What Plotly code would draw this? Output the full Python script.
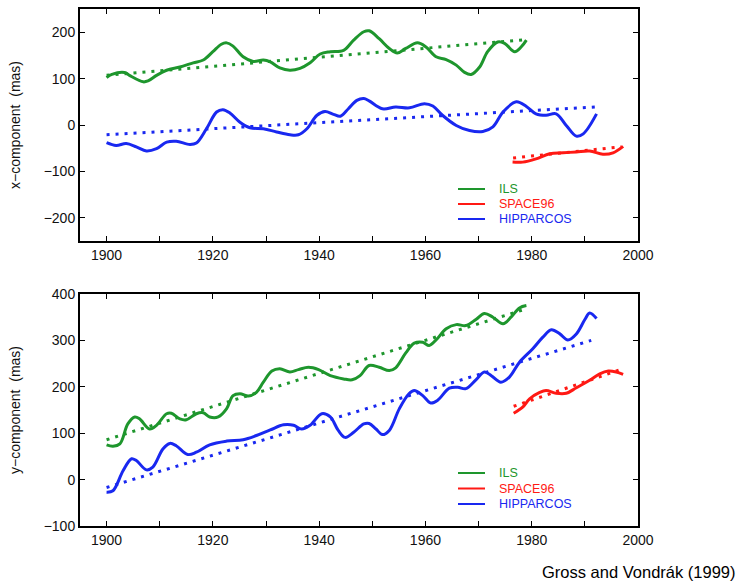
import plotly.graph_objects as go

# ---------------- data ----------------
# x-component (mas)
ils_x_year = [1900, 1901, 1903.4, 1904.3, 1906.9, 1907.8, 1909.4, 1911.3, 1913.8, 1916.3, 1918.2, 1920,
              1921.6, 1922.6, 1923.8, 1925.7, 1927.6, 1929.5, 1930.8, 1932.6, 1934.5, 1936.4, 1938.3,
              1940.2, 1942.1, 1944.6, 1946.5, 1948.4, 1949.4, 1951.3, 1953.2, 1954.7, 1956.3, 1958.5,
              1960.1, 1962, 1963.9, 1965.8, 1967.3, 1968.6, 1970.2, 1971.7, 1973.6, 1974.9, 1976.8,
              1978, 1979]
ils_x_val = [102, 109, 113, 107, 93, 95, 107, 118, 125, 134, 140, 158,
             174, 177, 170, 147, 137, 140, 136, 123, 118, 122, 134,
             153, 158, 161, 183, 201, 203, 186, 165, 155, 165, 177,
             168, 147, 141, 129, 114, 109, 125, 158, 179, 176, 158,
             168, 183]
hip_x_year = [1900, 1901.8, 1903.7, 1905.6, 1907.5, 1909.4, 1911.3, 1913.1, 1915.7, 1916.9, 1918.8,
              1920.7, 1921.9, 1923.2, 1925.1, 1927, 1929.5, 1932, 1934.5, 1936.1, 1937.7, 1939.6,
              1941.1, 1942.7, 1944, 1945.5, 1947.1, 1948.4, 1949.4, 1951.9, 1954.4, 1957, 1959.8,
              1961.4, 1963.2, 1965.8, 1968.3, 1970.8, 1972.7, 1974.6, 1977.1, 1979, 1980.8, 1982.7,
              1984.6, 1986.5, 1988.4, 1989.7, 1992.2]
hip_x_val = [-38, -44, -40, -47, -56, -51, -37, -35, -42, -39, -8,
             28, 33, 26, 6, -6, -8, -15, -21, -21, -8, 21,
             29, 23, 19, 35, 53, 57, 52, 35, 39, 37, 46,
             41, 21, -1, -12, -14, -4, 28, 50, 40, 24, 21,
             24, -1, -24, -19, 24]
sp_x_year = [1976.4, 1978.3, 1980.8, 1983.4, 1985.9, 1988.4, 1990.9, 1993.4, 1995.3, 1997.2]
sp_x_val = [-80, -80, -73, -62, -60, -58, -56, -63, -60, -46]

ils_x_trend_year = [1900, 1979]
ils_x_trend_val = [107, 184]
hip_x_trend_year = [1900, 1992.2]
hip_x_trend_val = [-21, 39]
sp_x_trend_year = [1976.5, 1996.9]
sp_x_trend_val = [-71, -47]

# y-component (mas)
ils_y_year = [1900, 1901.2, 1902.5, 1904, 1905.3, 1906.2, 1908.1, 1909.4, 1911.3, 1912.2, 1913.8,
              1915, 1916.9, 1918.2, 1919.4, 1921, 1922.6, 1923.8, 1925.1, 1926.7, 1928.2, 1929.5,
              1931.1, 1932.6, 1934.5, 1936.1, 1938, 1939.9, 1942.1, 1944.6, 1946.2, 1947.7, 1949.4,
              1951.3, 1953.2, 1954.4, 1956.3, 1957.9, 1959.5, 1960.7, 1962, 1963.9, 1965.8, 1967.6,
              1969.5, 1971.1, 1972.7, 1974.6, 1976.1, 1977.7, 1979]
ils_y_val = [75, 72, 77, 120, 135, 131, 109, 117, 142, 143, 131,
             129, 142, 144, 135, 135, 153, 181, 185, 180, 188, 210,
             234, 239, 232, 237, 242, 237, 224, 217, 215, 224, 246,
             242, 235, 241, 273, 294, 296, 289, 301, 325, 334, 332,
             345, 358, 350, 336, 350, 370, 375]
hip_y_year = [1900, 1901.2, 1903.1, 1904.7, 1905.6, 1907.5, 1908.7, 1910.6, 1911.9, 1913.1, 1915.3,
              1916.9, 1919.4, 1922.6, 1925.7, 1928.2, 1930.8, 1933.3, 1935.2, 1936.7, 1938.3, 1940.5,
              1942.1, 1943.6, 1944.9, 1946.5, 1948.4, 1949.4, 1950.7, 1951.9, 1953.2, 1955.1, 1956.9,
              1957.9, 1959.5, 1961, 1962.3, 1964.5, 1966.1, 1967.6, 1969.5, 1971.1, 1972.4, 1974.2,
              1975.8, 1977.7, 1980.2, 1982.1, 1983.7, 1985.3, 1986.8, 1988.4, 1990, 1990.9, 1992.2]
hip_y_val = [-27, -24, 19, 45, 41, 21, 27, 66, 78, 73, 54,
             59, 75, 83, 86, 95, 107, 118, 117, 109, 117, 142,
             135, 106, 91, 102, 120, 121, 109, 97, 106, 153, 185,
             192, 181, 165, 171, 197, 199, 196, 215, 232, 224, 210,
             221, 253, 282, 307, 323, 314, 301, 314, 345, 359, 347]
sp_y_year = [1976.6, 1978.3, 1979.6, 1981.5, 1982.7, 1984.6, 1986.5, 1988.4, 1990.9, 1992.8, 1994.4,
             1995.9, 1997.2]
sp_y_val = [143, 156, 174, 188, 192, 186, 186, 198, 214, 228, 234, 232, 227]

ils_y_trend_year = [1900, 1979]
ils_y_trend_val = [86, 368]
hip_y_trend_year = [1900, 1991.2]
hip_y_trend_val = [-17, 300]
sp_y_trend_year = [1976.6, 1996.7]
sp_y_trend_val = [158, 237]

series_names = ["ILS", "SPACE96", "HIPPARCOS"]
x_tick_vals = [1900, 1920, 1940, 1960, 1980, 2000]
top_y_ticks = [-200, -100, 0, 100, 200]
bot_y_ticks = [-100, 0, 100, 200, 300, 400]

# ---------------- styles ----------------
GREEN = "rgb(30,150,45)"
RED = "rgb(255,25,20)"
BLUE = "rgb(25,40,240)"
series_colors = [GREEN, RED, BLUE]

fig = go.Figure()

def add_series(years, vals, tyears, tvals, color, xa, ya):
    fig.add_trace(go.Scatter(x=years, y=vals, mode="lines",
                             line=dict(color=color, width=3, shape="spline", smoothing=1.0),
                             xaxis=xa, yaxis=ya, showlegend=False, hoverinfo="skip"))
    fig.add_trace(go.Scatter(x=tyears, y=tvals, mode="lines", line=dict(color=color, width=3, dash="3px,6px"),
                             xaxis=xa, yaxis=ya, showlegend=False, hoverinfo="skip"))

add_series(ils_x_year, ils_x_val, ils_x_trend_year, ils_x_trend_val, GREEN, "x", "y")
add_series(hip_x_year, hip_x_val, hip_x_trend_year, hip_x_trend_val, BLUE, "x", "y")
add_series(sp_x_year, sp_x_val, sp_x_trend_year, sp_x_trend_val, RED, "x", "y")

add_series(ils_y_year, ils_y_val, ils_y_trend_year, ils_y_trend_val, GREEN, "x2", "y2")
add_series(hip_y_year, hip_y_val, hip_y_trend_year, hip_y_trend_val, BLUE, "x2", "y2")
add_series(sp_y_year, sp_y_val, sp_y_trend_year, sp_y_trend_val, RED, "x2", "y2")

W, H = 740, 582
xdom = [80 / W, 638 / W]
top_dom = [1 - 241 / H, 1 - 9 / H]
bot_dom = [1 - 526 / H, 1 - 294 / H]

FONT = "Liberation Sans, Arial, Helvetica, sans-serif"
TXT = "#111"

xaxis_common = dict(range=[1895, 2000], tickvals=x_tick_vals, ticks="inside", ticklen=5, tickwidth=1,
                    tickcolor="black", showline=True, linecolor="black", linewidth=2, mirror="allticks",
                    showgrid=False, zeroline=False, domain=xdom, automargin=False,
                    tickfont=dict(family=FONT, size=14, color=TXT),
                    minor=dict(dtick=10, tick0=1900, ticks="inside", ticklen=5, tickcolor="black",
                               tickwidth=1, showgrid=False))
yaxis_common = dict(ticks="inside", ticklen=5, tickwidth=1, tickcolor="black", showline=True,
                    linecolor="black", linewidth=2, mirror="allticks", showgrid=False, zeroline=False,
                    automargin=False, tickfont=dict(family=FONT, size=14, color=TXT))

fig.update_layout(
    template="none",
    width=W, height=H, autosize=False, margin=dict(l=0, r=0, t=0, b=0, pad=0),
    paper_bgcolor="white", plot_bgcolor="white",
    font=dict(family=FONT, color=TXT),
    showlegend=False,
    xaxis=dict(**xaxis_common, anchor="y"),
    xaxis2=dict(**xaxis_common, anchor="y2"),
    yaxis=dict(**yaxis_common, range=[-250, 250], tickvals=top_y_ticks, domain=top_dom, anchor="x"),
    yaxis2=dict(**yaxis_common, range=[-100, 400], tickvals=bot_y_ticks, domain=bot_dom, anchor="x2"),
)

# custom legends (line sample + coloured text)
legend_rows = {"top": [189, 204, 219], "bot": [473, 488.5, 504]}
shapes = []
annotations = []
for key, rows in legend_rows.items():
    for name, color, py in zip(series_names, series_colors, rows):
        yp = 1 - py / H
        shapes.append(dict(type="line", xref="paper", yref="paper", x0=458 / W, x1=485 / W, y0=yp, y1=yp,
                           line=dict(color=color, width=2)))
        annotations.append(dict(text=name, xref="paper", yref="paper", x=497 / W, y=yp, xanchor="left",
                                yanchor="middle", showarrow=False,
                                font=dict(family=FONT, size=12.5, color=color)))

# axis titles
annotations.append(dict(text="x\u2212component\u00a0 (mas)", xref="paper", yref="paper", x=15 / W,
                        y=1 - 125 / H, textangle=-90, showarrow=False, xanchor="center", yanchor="middle",
                        font=dict(family=FONT, size=14, color=TXT)))
annotations.append(dict(text="y\u2212component\u00a0 (mas)", xref="paper", yref="paper", x=15 / W,
                        y=1 - 410 / H, textangle=-90, showarrow=False, xanchor="center", yanchor="middle",
                        font=dict(family=FONT, size=14, color=TXT)))

annotations.append(dict(text="Gross and Vondrák (1999)", xref="paper", yref="paper", x=738 / W, y=1 - 572 / H,
                        xanchor="right", yanchor="middle", showarrow=False,
                        font=dict(family=FONT, size=16.5, color="black")))

fig.update_layout(shapes=shapes, annotations=annotations)

fig.write_html("out.html", config={"responsive": False},
               post_script="document.documentElement.style.overflow='hidden';document.body.style.overflow='hidden';document.body.style.margin='0';")
